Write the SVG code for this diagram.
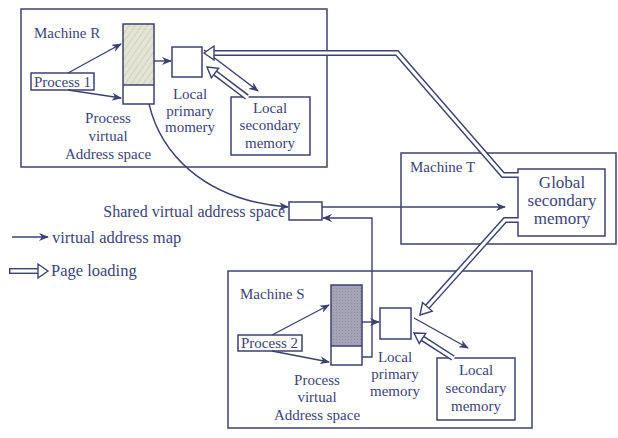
<svg xmlns="http://www.w3.org/2000/svg" width="618" height="438" viewBox="0 0 618 438">
<style>
.box{fill:none;stroke:#3c4170;stroke-width:1.5}
.nb{fill:#fff;stroke:#3c4170;stroke-width:1.5}
.t{font-family:"Liberation Serif","Times New Roman",serif;font-size:15px;fill:#3d4478}
.g{font-size:17px}
.s{font-size:16px}
.l{font-size:16.5px}
.c{text-anchor:middle}
.thin{fill:none;stroke:#3c4170;stroke-width:1.4;marker-end:url(#arr)}
.pl-o{fill:none;stroke:#3c4170;stroke-width:6;stroke-linejoin:miter}
.pl-i{fill:none;stroke:#fff;stroke-width:3.2;stroke-linejoin:miter}
.head{fill:#fff;stroke:#3c4170;stroke-width:1.4;stroke-linejoin:miter}
</style>
<defs>
<marker id="arr" markerUnits="userSpaceOnUse" markerWidth="10" markerHeight="8" refX="9" refY="4" orient="auto">
<path d="M0,0 L10,4 L0,8 L3,4 z" fill="#3c4170"/>
</marker>
<pattern id="hatch" patternUnits="userSpaceOnUse" width="5" height="5" patternTransform="rotate(35)">
<rect width="5" height="5" fill="#e4e4d4"/>
<line x1="0" y1="0" x2="0" y2="5" stroke="#c4c4b4" stroke-width="1.2"/>
</pattern>
<pattern id="dark" patternUnits="userSpaceOnUse" width="3" height="3">
<rect width="3" height="3" fill="#a4a4b6"/>
<rect width="1" height="1" fill="#8c8ca0"/>
</pattern>
</defs>
<rect width="618" height="438" fill="#fff"/>

<g id="machineR">
<rect class="box" x="21" y="9" width="306" height="158"/>
<text class="t" x="34" y="38">Machine R</text>
</g>
<g id="pvasR">
<rect x="123" y="24" width="31" height="61" fill="url(#hatch)"/>
<rect class="box" x="123" y="24" width="31" height="80"/>
<line class="box" x1="123" y1="85" x2="154" y2="85"/>
<text class="t c" x="108" y="123">Process</text>
<text class="t c" x="108" y="141">virtual</text>
<text class="t c" x="108" y="159">Address space</text>
</g>
<g id="process1">
<rect class="nb" x="31" y="73" width="63" height="17"/>
<text class="t" x="34" y="87">Process 1</text>
</g>
<g id="primaryR">
<rect class="nb" x="172" y="47" width="30" height="30"/>
<text class="t c" x="190" y="99">Local</text>
<text class="t c" x="190" y="116">primary</text>
<text class="t c" x="190" y="132">momery</text>
</g>
<g id="secondaryR">
<rect class="nb" x="231" y="97" width="79" height="58"/>
<text class="t c" x="270" y="113">Local</text>
<text class="t c" x="270" y="130">secondary</text>
<text class="t c" x="270" y="148">memory</text>
</g>

<g id="machineT">
<rect class="box" x="401" y="153" width="215" height="91"/>
<text class="t" x="410" y="172">Machine T</text>
</g>
<g id="globalSecondary">
<rect class="nb" x="518" y="169" width="87" height="67"/>
<text class="t g c" x="562" y="188">Global</text>
<text class="t g c" x="562" y="206">secondary</text>
<text class="t g c" x="562" y="224">memory</text>
</g>

<g id="shared">
<rect class="nb" x="289" y="202" width="33" height="18"/>
<text class="t s" x="285" y="217" text-anchor="end">Shared virtual address space</text>
</g>

<g id="legend">
<text class="t l" x="52" y="243">virtual address map</text>
<text class="t l" x="51" y="276">Page loading</text>
</g>

<g id="machineS">
<rect class="box" x="228" y="271" width="304" height="157"/>
<text class="t" x="240" y="299">Machine S</text>
</g>
<g id="pvasS">
<rect x="331" y="285" width="31" height="61" fill="url(#dark)"/>
<rect class="box" x="331" y="285" width="31" height="80"/>
<line class="box" x1="331" y1="346" x2="362" y2="346"/>
<text class="t c" x="317" y="385">Process</text>
<text class="t c" x="317" y="402">virtual</text>
<text class="t c" x="317" y="420">Address space</text>
</g>
<g id="process2">
<rect class="nb" x="238" y="335" width="64" height="16"/>
<text class="t" x="241" y="348">Process 2</text>
</g>
<g id="primaryS">
<rect class="nb" x="380" y="308" width="31" height="31"/>
<text class="t c" x="395" y="362">Local</text>
<text class="t c" x="395" y="379">primary</text>
<text class="t c" x="395" y="396">memory</text>
</g>
<g id="secondaryS">
<rect class="nb" x="437" y="358" width="78" height="62"/>
<text class="t c" x="476" y="375">Local</text>
<text class="t c" x="476" y="393">secondary</text>
<text class="t c" x="476" y="411">memory</text>
</g>

<g id="connectors">
<path class="thin" d="M68,73 L121,44"/>
<path class="thin" d="M68,90 L121,98"/>
<path class="thin" d="M154,61 L171,61"/>
<path class="thin" d="M204,50 L258,91"/>
<path class="thin" d="M149,104 C160,150 200,200 288,207"/>
<path class="thin" d="M322,207 L505,207"/>
<path class="thin" d="M362,357 H372 V218 H323"/>
<path class="thin" d="M362,322 L379,322"/>
<path class="thin" d="M272,335 L329,305"/>
<path class="thin" d="M272,351 L329,362"/>
<path class="thin" d="M414,318 L468,348"/>
<path class="thin" d="M12,237 L48,237"/>

<path class="pl-o" d="M518,175 L503,175 L397,53 L214,53"/>
<path class="pl-i" d="M519,175 L503,175 L397,53 L213,53"/>
<polygon class="head" points="204,53 214,46 214,60"/>

<path class="pl-o" d="M247,97 L215,73"/>
<path class="pl-i" d="M248,98 L214.5,72.6"/>
<polygon class="head" points="207,67 218.6,68.2 211.4,77.8"/>

<path class="pl-o" d="M518,220 L505,220 L427.3,306.8"/>
<path class="pl-i" d="M519,220 L505,220 L427,307.2"/>
<polygon class="head" points="420,315 432.2,311.1 422.5,302.5"/>

<path class="pl-o" d="M453,358 L422.4,338.4"/>
<path class="pl-i" d="M454,358.6 L421.9,338"/>
<polygon class="head" points="414,333 425.7,333.4 419.2,343.5"/>

<path class="pl-o" d="M9,271 L38,271"/>
<path class="pl-i" d="M10.5,271 L39,271"/>
<polygon class="head" points="48,271 38,264 38,278"/>
</g>
</svg>
